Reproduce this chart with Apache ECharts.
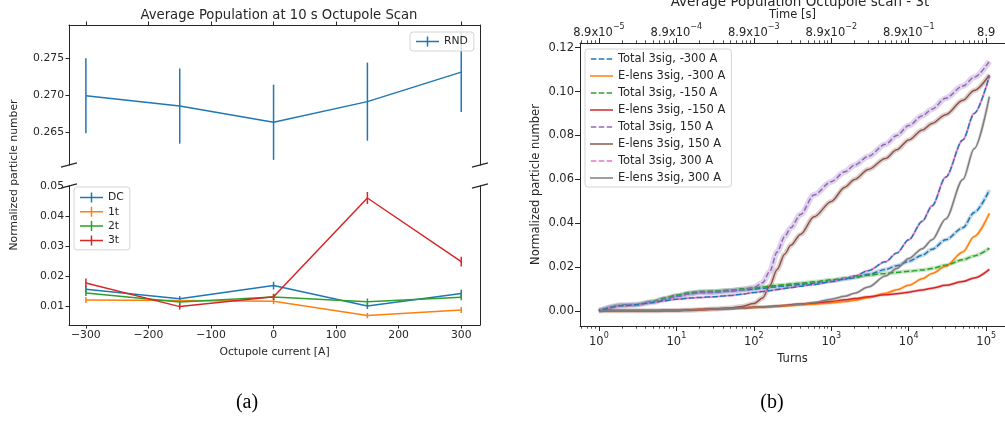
<!DOCTYPE html>
<html>
<head>
<meta charset="utf-8">
<script src="https://cdn.jsdelivr.net/npm/echarts@6/dist/echarts.min.js"></script>
<style>
  html, body { margin: 0; padding: 0; background: #fff; }
  #c { width: 1005px; height: 421px; }
</style>
</head>
<body>
<div id="c"></div>
<script>
// ---------- (a) octupole scan, population at 10 s ----------
const currents = [-300, -150, 0, 150, 300];
const currentTicks = [-300, -200, -100, 0, 100, 200, 300];

const rnd    = [0.2699, 0.2685, 0.2663, 0.2691, 0.2731];
const rndErr = [0.0051, 0.0051, 0.0051, 0.0053, 0.0054];

const dc    = [0.0156, 0.0124, 0.0168, 0.0100, 0.0142];
const dcErr = [0.0011, 0.0009, 0.0013, 0.0010, 0.0012];
const t1    = [0.0120, 0.0118, 0.0116, 0.0068, 0.0087];
const t1Err = [0.0010, 0.0009, 0.0010, 0.0009, 0.0010];
const t2    = [0.0143, 0.0113, 0.0130, 0.0114, 0.0129];
const t2Err = [0.0010, 0.0009, 0.0010, 0.0011, 0.0010];
const t3    = [0.0177, 0.0098, 0.0131, 0.0460, 0.0248];
const t3Err = [0.0015, 0.0010, 0.0010, 0.0020, 0.0016];

const upperTicks = [0.265, 0.270, 0.275];
const lowerTicks = [0.01, 0.02, 0.03, 0.04, 0.05];

// ---------- (b) population vs turns, 3t ----------
const turns = [1, 2, 3, 5, 7, 10, 15, 20, 30, 50, 70, 100, 130, 160, 200, 250, 300, 400, 600,
               1000, 1500, 2000, 3000, 5000, 7000, 10000, 15000, 20000, 30000, 50000, 70000, 110000];

const totM300 = [0.0003, 0.0027, 0.0030, 0.0042, 0.0055, 0.0068, 0.0080, 0.0085, 0.0086, 0.0092, 0.0097, 0.0100,
                 0.0104, 0.0108, 0.0112, 0.0115, 0.0118, 0.0122, 0.0128, 0.0137, 0.0146, 0.0153, 0.0168, 0.0190,
                 0.0207, 0.0228, 0.0255, 0.0282, 0.0325, 0.0380, 0.0450, 0.0552];
const elsM300 = [0.0002, 0.0002, 0.0002, 0.0002, 0.0003, 0.0004, 0.0006, 0.0008, 0.0010, 0.0013, 0.0015, 0.0017,
                 0.0019, 0.0020, 0.0022, 0.0024, 0.0026, 0.0029, 0.0032, 0.0038, 0.0044, 0.0050, 0.0062, 0.0082,
                 0.0098, 0.0118, 0.0148, 0.0172, 0.0205, 0.0270, 0.0340, 0.0446];
const totM150 = [0.0003, 0.0027, 0.0030, 0.0045, 0.0060, 0.0073, 0.0085, 0.0090, 0.0092, 0.0097, 0.0102, 0.0106,
                 0.0110, 0.0114, 0.0118, 0.0121, 0.0124, 0.0128, 0.0134, 0.0143, 0.0151, 0.0157, 0.0164, 0.0172,
                 0.0177, 0.0182, 0.0188, 0.0195, 0.0210, 0.0234, 0.0252, 0.0287];
const elsM150 = [0.0003, 0.0003, 0.0003, 0.0003, 0.0003, 0.0004, 0.0006, 0.0008, 0.0010, 0.0013, 0.0015, 0.0018,
                 0.0020, 0.0022, 0.0024, 0.0026, 0.0030, 0.0033, 0.0038, 0.0045, 0.0052, 0.0058, 0.0066, 0.0075,
                 0.0080, 0.0087, 0.0097, 0.0105, 0.0118, 0.0135, 0.0152, 0.0191];
const totP150 = [0.0003, 0.0027, 0.0030, 0.0042, 0.0055, 0.0068, 0.0080, 0.0085, 0.0087, 0.0093, 0.0098, 0.0108,
                 0.0130, 0.0180, 0.0270, 0.0340, 0.0380, 0.0440, 0.0530, 0.0590, 0.0635, 0.0665, 0.0705, 0.0760,
                 0.0800, 0.0845, 0.0890, 0.0920, 0.0970, 0.1025, 0.1065, 0.1138];
const elsP150 = [0.0002, 0.0002, 0.0002, 0.0002, 0.0003, 0.0004, 0.0005, 0.0007, 0.0010, 0.0015, 0.0022, 0.0035,
                 0.0060, 0.0115, 0.0190, 0.0260, 0.0300, 0.0350, 0.0430, 0.0500, 0.0565, 0.0600, 0.0645, 0.0695,
                 0.0735, 0.0780, 0.0825, 0.0855, 0.0895, 0.0960, 0.1005, 0.1076];
const totP300 = [0.0003, 0.0025, 0.0030, 0.0040, 0.0048, 0.0055, 0.0060, 0.0063, 0.0066, 0.0072, 0.0078, 0.0085,
                 0.0090, 0.0094, 0.0099, 0.0104, 0.0108, 0.0114, 0.0122, 0.0135, 0.0148, 0.0160, 0.0185, 0.0225,
                 0.0265, 0.0325, 0.0410, 0.0480, 0.0610, 0.0780, 0.0900, 0.1070];
const elsP300 = [0.0002, 0.0002, 0.0002, 0.0002, 0.0003, 0.0004, 0.0006, 0.0008, 0.0010, 0.0013, 0.0015, 0.0018,
                 0.0020, 0.0022, 0.0024, 0.0026, 0.0028, 0.0032, 0.0040, 0.0055, 0.0068, 0.0082, 0.0110, 0.0160,
                 0.0195, 0.0240, 0.0285, 0.0325, 0.0420, 0.0600, 0.0740, 0.0977];

const seriesNames = ['Total 3sig, -300 A', 'E-lens 3sig, -300 A', 'Total 3sig, -150 A', 'E-lens 3sig, -150 A',
                     'Total 3sig, 150 A', 'E-lens 3sig, 150 A', 'Total 3sig, 300 A', 'E-lens 3sig, 300 A'];
const seriesValues = [totM300, elsM300, totM150, elsM150, totP150, elsP150, totP300, elsP300];

const turnTicks = [1, 10, 100, 1000, 10000, 100000];
const particleTicks = [0, 0.02, 0.04, 0.06, 0.08, 0.10, 0.12];
const timeMantissa = '8.9';
const timeExponents = [-5, -4, -3, -2, -1, null];

// ---------- styling ----------
const FONT = 'DejaVu Sans';
const TXT = '#262626';
const SPINE = '#262626';
const C = ['#1f77b4', '#ff7f0e', '#2ca02c', '#d62728', '#9467bd', '#8c564b', '#e377c2', '#7f7f7f'];
const dashedFlags = [true, false, true, false, true, false, true, false];
const haloWidths = [4, 3, 4, 3, 6, 5, 3, 3];
const DASH = [5.5, 2.4];

const X_MIN = -327, X_MAX = 330;
const UP_MIN = 0.2605, UP_MAX = 0.2795;
const LO_MIN = 0.00367, LO_MAX = 0.05;
const T_MIN = 0.57, T_MAX = 175000;
const P_MIN = -0.0067, P_MAX = 0.1221;

const minorTurnTicks = [];
for (let d = -1; d <= 5; d++) {
  for (let k = 2; k <= 9; k++) {
    const v = k * Math.pow(10, d);
    if (v >= T_MIN && v <= T_MAX) minorTurnTicks.push(v);
  }
}

const minusFmt = v => (v < 0 ? '\u2212' + Math.abs(v) : String(v));
const plusIcon = 'path://M0,4.25H23V5.75H0Z M10.75,0H12.25V10H10.75Z';
const solidIcon = 'path://M0,0H23V1.5H0Z';
const dashIcon = 'path://M0,0H5.5V1.5H0Z M7.9,0H13.4V1.5H7.9Z M15.8,0H21.3V1.5H15.8Z';

const line1 = { show: true, onZero: false, lineStyle: { color: SPINE, width: 1 } };

function spineAxis(extra) {
  return Object.assign({
    axisLine: line1,
    axisTick: { show: false },
    axisLabel: { show: false },
    splitLine: { show: false }
  }, extra);
}

function errorBarSeries(name, values, errs, color, xAxisIndex, yAxisIndex) {
  return {
    type: 'custom',
    name: name,
    xAxisIndex: xAxisIndex,
    yAxisIndex: yAxisIndex,
    z: 3,
    silent: true,
    data: currents.map((c, i) => [c, values[i], errs[i]]),
    renderItem: function (params, api) {
      const x = api.value(0), y = api.value(1), e = api.value(2);
      const p1 = api.coord([x, y + e]);
      const p2 = api.coord([x, y - e]);
      return {
        type: 'line',
        shape: { x1: p1[0], y1: p1[1], x2: p2[0], y2: p2[1] },
        style: { stroke: color, lineWidth: 1.5 }
      };
    }
  };
}

function lineSeries(name, values, color, xAxisIndex, yAxisIndex) {
  return {
    type: 'line',
    name: name,
    xAxisIndex: xAxisIndex,
    yAxisIndex: yAxisIndex,
    data: currents.map((c, i) => [c, values[i]]),
    symbol: 'none',
    z: 3,
    lineStyle: { color: color, width: 1.5 },
    itemStyle: { color: color },
    emphasis: { disabled: true }
  };
}

const sup = {
  b: { fontFamily: FONT, fontSize: 11.5, color: TXT, lineHeight: 16, verticalAlign: 'bottom' },
  s: { fontFamily: FONT, fontSize: 8, color: TXT, lineHeight: 9, verticalAlign: 'top' }
};

const chart = echarts.init(document.getElementById('c'), null, { renderer: 'canvas' });

const series = [];
// (a) upper panel
series.push(lineSeries('RND', rnd, C[0], 0, 0));
series.push(errorBarSeries('RND', rnd, rndErr, C[0], 0, 0));
// (a) lower panel
[['DC', dc, dcErr, C[0]], ['1t', t1, t1Err, C[1]], ['2t', t2, t2Err, C[2]], ['3t', t3, t3Err, C[3]]]
  .forEach(([n, v, e, col]) => {
    series.push(lineSeries(n, v, col, 1, 2));
    series.push(errorBarSeries(n, v, e, col, 1, 2));
  });

// (b) shaded uncertainty halos drawn beneath the curves
seriesValues.forEach((vals, i) => {
  series.push({
    type: 'line',
    name: seriesNames[i] + ' band',
    xAxisIndex: 2, yAxisIndex: 4,
    data: turns.map((t, j) => [t, vals[j]]),
    symbol: 'none', silent: true, z: 1,
    smooth: 0.3, smoothMonotone: 'x',
    lineStyle: { color: C[i], width: haloWidths[i], opacity: 0.28 },
    emphasis: { disabled: true }
  });
});
// (b) curves
seriesValues.forEach((vals, i) => {
  series.push({
    type: 'line',
    name: seriesNames[i],
    xAxisIndex: 2, yAxisIndex: 4,
    data: turns.map((t, j) => [t, vals[j]]),
    symbol: 'none', z: 2,
    smooth: 0.3, smoothMonotone: 'x',
    lineStyle: { color: C[i], width: 1.5, type: dashedFlags[i] ? DASH : 'solid' },
    itemStyle: { color: C[i] },
    emphasis: { disabled: true }
  });
});
// blue dashes running along the 300 A total curve
series.push({
  type: 'line',
  name: 'overlay',
  xAxisIndex: 2, yAxisIndex: 4,
  data: turns.map((t, j) => [t, totP300[j]]),
  symbol: 'none', silent: true, z: 2,
  smooth: 0.3, smoothMonotone: 'x',
  lineStyle: { color: C[0], width: 1.5, type: DASH, dashOffset: 4 },
  emphasis: { disabled: true }
});

const legendBox = {
  orient: 'vertical',
  borderColor: '#d4d4d4', borderWidth: 1, borderRadius: 3,
  backgroundColor: 'rgba(255,255,255,0.8)',
  textStyle: { fontFamily: FONT, fontSize: 10.8, color: TXT },
  itemWidth: 23, itemHeight: 10,
  selectedMode: false
};

const option = {
  animation: false,
  backgroundColor: '#fff',
  title: [
    { text: 'Average Population at 10 s Octupole Scan', left: 274, top: 4, textAlign: 'center',
      textStyle: { fontFamily: FONT, fontSize: 13.2, fontWeight: 'normal', color: TXT } },
    { text: 'Average Population Octupole scan - 3t', left: 795, top: -10, textAlign: 'center',
      textStyle: { fontFamily: FONT, fontSize: 13.5, fontWeight: 'normal', color: TXT } }
  ],
  grid: [
    { left: 69, top: 25, width: 411, height: 140 },
    { left: 69, top: 186, width: 411, height: 139 },
    { left: 580, top: 43, width: 428, height: 283 }
  ],
  legend: [
    Object.assign({}, legendBox, { data: ['RND'], left: 410, top: 32, padding: [4, 6, 4, 6], icon: plusIcon }),
    Object.assign({}, legendBox, { data: ['DC', '1t', '2t', '3t'], left: 74, top: 187, padding: [5, 6, 4, 6],
      itemGap: 3.3, icon: plusIcon }),
    Object.assign({}, legendBox, {
      data: seriesNames.map((n, i) => ({ name: n, icon: dashedFlags[i] ? dashIcon : solidIcon })),
      left: 585, top: 49, padding: [4, 6, 3, 5], itemHeight: 1.5,
      itemGap: 5, textStyle: { fontFamily: FONT, fontSize: 11.5, color: TXT, lineHeight: 12 } })
  ],
  xAxis: [
    // 0: (a) upper, ticks on top
    { type: 'value', gridIndex: 0, position: 'top', min: X_MIN, max: X_MAX,
      axisLine: line1,
      axisTick: { show: true, length: 3.5, customValues: currentTicks, lineStyle: { color: SPINE } },
      axisLabel: { show: false }, splitLine: { show: false } },
    // 1: (a) lower
    { type: 'value', gridIndex: 1, position: 'bottom', min: X_MIN, max: X_MAX,
      name: 'Octupole current [A]', nameLocation: 'middle', nameGap: 22,
      nameTextStyle: { fontFamily: FONT, fontSize: 10.8, color: TXT },
      axisLine: line1,
      axisTick: { show: true, length: 3.5, customValues: currentTicks, lineStyle: { color: SPINE } },
      axisLabel: { customValues: currentTicks, formatter: minusFmt, fontFamily: FONT, fontSize: 10.8,
        color: TXT, margin: 5 },
      splitLine: { show: false } },
    // 2: (b) turns, major ticks
    { type: 'log', logBase: 10, gridIndex: 2, position: 'bottom', min: T_MIN, max: T_MAX,
      name: 'Turns', nameLocation: 'middle', nameGap: 26,
      nameTextStyle: { fontFamily: FONT, fontSize: 11.5, color: TXT },
      axisLine: line1,
      axisTick: { show: true, length: 5, customValues: turnTicks, lineStyle: { color: SPINE } },
      axisLabel: { customValues: turnTicks, margin: 6, rich: sup,
        formatter: v => '{b|10}{s|' + Math.round(Math.log10(v)) + '}' },
      splitLine: { show: false } },
    // 3: (b) turns, minor ticks
    { type: 'log', logBase: 10, gridIndex: 2, position: 'bottom', min: T_MIN, max: T_MAX,
      axisLine: { show: false, onZero: false },
      axisTick: { show: true, length: 2.7, customValues: minorTurnTicks, lineStyle: { color: SPINE, width: 0.8 } },
      axisLabel: { show: false }, splitLine: { show: false } },
    // 4: (b) time, major ticks on top
    { type: 'log', logBase: 10, gridIndex: 2, position: 'top', min: T_MIN, max: T_MAX,
      axisLine: line1,
      axisTick: { show: true, length: 5, customValues: turnTicks, lineStyle: { color: SPINE } },
      axisLabel: { customValues: turnTicks, margin: 4, rich: sup,
        formatter: v => {
          const e = timeExponents[turnTicks.indexOf(v)];
          return e === null || e === undefined ? '{b|' + timeMantissa + '}'
            : '{b|' + timeMantissa + 'x10}{s|' + (e < 0 ? '\u2212' + (-e) : e) + '}';
        } },
      splitLine: { show: false } },
    // 5: (b) time, minor ticks on top
    { type: 'log', logBase: 10, gridIndex: 2, position: 'top', min: T_MIN, max: T_MAX,
      axisLine: { show: false, onZero: false },
      axisTick: { show: true, length: 2.7, customValues: minorTurnTicks, lineStyle: { color: SPINE, width: 0.8 } },
      axisLabel: { show: false }, splitLine: { show: false } }
  ],
  yAxis: [
    // 0: (a) upper
    { type: 'value', gridIndex: 0, position: 'left', min: UP_MIN, max: UP_MAX,
      axisLine: line1,
      axisTick: { show: true, length: 3.5, customValues: upperTicks, lineStyle: { color: SPINE } },
      axisLabel: { customValues: upperTicks, formatter: v => v.toFixed(3), fontFamily: FONT, fontSize: 10.8,
        color: TXT, margin: 5 },
      splitLine: { show: false } },
    // 1: (a) upper right spine
    spineAxis({ type: 'value', gridIndex: 0, position: 'right', min: UP_MIN, max: UP_MAX }),
    // 2: (a) lower
    { type: 'value', gridIndex: 1, position: 'left', min: LO_MIN, max: LO_MAX,
      axisLine: line1,
      axisTick: { show: true, length: 3.5, customValues: lowerTicks, lineStyle: { color: SPINE } },
      axisLabel: { customValues: lowerTicks, formatter: v => v.toFixed(2), fontFamily: FONT, fontSize: 10.8,
        color: TXT, margin: 5 },
      splitLine: { show: false } },
    // 3: (a) lower right spine
    spineAxis({ type: 'value', gridIndex: 1, position: 'right', min: LO_MIN, max: LO_MAX }),
    // 4: (b)
    { type: 'value', gridIndex: 2, position: 'left', min: P_MIN, max: P_MAX,
      name: 'Normalized particle number', nameLocation: 'middle', nameGap: 38,
      nameTextStyle: { fontFamily: FONT, fontSize: 11.5, color: TXT },
      axisLine: line1,
      axisTick: { show: true, length: 5, customValues: particleTicks, lineStyle: { color: SPINE } },
      axisLabel: { customValues: particleTicks, formatter: v => v.toFixed(2),
        fontFamily: FONT, fontSize: 11.5, color: TXT, margin: 6 },
      splitLine: { show: false } },
    // 5: (b) right spine
    spineAxis({ type: 'value', gridIndex: 2, position: 'right', min: P_MIN, max: P_MAX })
  ],
  series: series
};

chart.setOption(option);

// Axis-break slashes at the gap between the two (a) panels, plus shared texts
const corners = [
  chart.convertToPixel({ gridIndex: 0 }, [X_MIN, UP_MIN]),
  chart.convertToPixel({ gridIndex: 0 }, [X_MAX, UP_MIN]),
  chart.convertToPixel({ gridIndex: 1 }, [X_MIN, LO_MAX]),
  chart.convertToPixel({ gridIndex: 1 }, [X_MAX, LO_MAX])
];
const graphic = corners.map(p => ({
  type: 'line',
  shape: { x1: p[0] - 8, y1: p[1] + 2.2, x2: p[0] + 8, y2: p[1] - 2.2 },
  style: { stroke: SPINE, lineWidth: 1.2 },
  z: 10
}));
const topLeft = chart.convertToPixel({ gridIndex: 0 }, [X_MIN, UP_MAX]);
const botLeft = chart.convertToPixel({ gridIndex: 1 }, [X_MIN, LO_MIN]);
graphic.push({
  type: 'text', x: 14, y: (topLeft[1] + botLeft[1]) / 2, rotation: Math.PI / 2,
  style: { text: 'Normalized particle number', fontFamily: FONT, fontSize: 10.8, fill: TXT,
    align: 'center', verticalAlign: 'middle' }
});
// top axis title of panel (b), centred over its plot area
const bLeftTop = chart.convertToPixel({ gridIndex: 2 }, [T_MIN, P_MAX]);
const bRightTop = chart.convertToPixel({ gridIndex: 2 }, [T_MAX, P_MAX]);
graphic.push({
  type: 'text', x: (bLeftTop[0] + bRightTop[0]) / 2, y: bLeftTop[1] - 28,
  style: { text: 'Time [s]', fontFamily: FONT, fontSize: 11.5, fill: TXT,
    align: 'center', verticalAlign: 'middle' }
});
graphic.push({
  type: 'text', x: 247, y: 403,
  style: { text: '(a)', fontFamily: 'Liberation Serif', fontSize: 20, fill: '#000',
    align: 'center', verticalAlign: 'middle' }
});
graphic.push({
  type: 'text', x: 772, y: 403,
  style: { text: '(b)', fontFamily: 'Liberation Serif', fontSize: 20, fill: '#000',
    align: 'center', verticalAlign: 'middle' }
});
chart.setOption({ graphic: graphic });
</script>
</body>
</html>
